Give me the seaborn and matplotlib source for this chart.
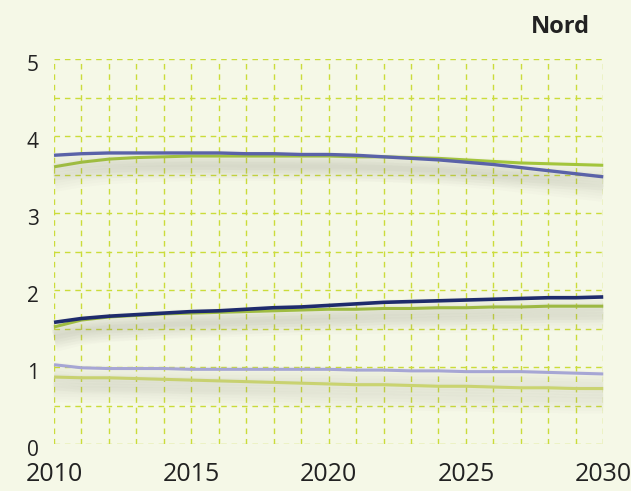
import numpy as np
import pandas as pd
import seaborn as sns
import matplotlib.pyplot as plt
import matplotlib.patheffects as pe
import matplotlib.transforms as mtransforms

# Yearly values per series
years = list(range(2010, 2031))
upper_blue = [3.75, 3.77, 3.78, 3.78, 3.78, 3.78, 3.78, 3.77, 3.77, 3.76, 3.76,
              3.75, 3.73, 3.71, 3.69, 3.66, 3.63, 3.59, 3.55, 3.51, 3.47]
upper_green = [3.60, 3.66, 3.70, 3.72, 3.73, 3.74, 3.74, 3.74, 3.74, 3.74, 3.74,
               3.73, 3.73, 3.72, 3.71, 3.69, 3.67, 3.65, 3.64, 3.63, 3.62]
mid_navy = [1.58, 1.63, 1.66, 1.68, 1.70, 1.72, 1.73, 1.75, 1.77, 1.78, 1.80,
            1.82, 1.84, 1.85, 1.86, 1.87, 1.88, 1.89, 1.90, 1.90, 1.91]
mid_green = [1.52, 1.61, 1.65, 1.67, 1.69, 1.70, 1.71, 1.72, 1.73, 1.74, 1.75,
             1.75, 1.76, 1.76, 1.77, 1.77, 1.78, 1.78, 1.79, 1.79, 1.79]
low_lavender = [1.03, 0.99, 0.98, 0.98, 0.98, 0.97, 0.97, 0.97, 0.97, 0.97, 0.97,
                0.96, 0.96, 0.95, 0.95, 0.94, 0.94, 0.94, 0.93, 0.92, 0.91]
low_green = [0.87, 0.86, 0.86, 0.85, 0.84, 0.83, 0.82, 0.81, 0.80, 0.79, 0.78,
             0.77, 0.77, 0.76, 0.75, 0.75, 0.74, 0.73, 0.73, 0.72, 0.72]

year_labels = ["2010", "2015", "2020", "2025", "2030"]
y_labels = ["0", "1", "2", "3", "4", "5"]
title = "Nord"

series = {
    "low_green": low_green,
    "low_lavender": low_lavender,
    "mid_green": mid_green,
    "mid_navy": mid_navy,
    "upper_green": upper_green,
    "upper_blue": upper_blue,
}
palette = {
    "low_green": "#d3e070",
    "low_lavender": "#a6a6d4",
    "mid_green": "#a2c23e",
    "mid_navy": "#1e2b6c",
    "upper_green": "#a3c53c",
    "upper_blue": "#5a62a8",
}
widths = {
    "low_green": 2.2, "low_lavender": 2.2, "mid_green": 2.2,
    "mid_navy": 2.6, "upper_green": 2.2, "upper_blue": 2.4,
}

df = pd.concat(
    [pd.DataFrame({"year": years, "value": vals, "series": name})
     for name, vals in series.items()],
    ignore_index=True,
)

bg = "#f5f8e7"
grid_col = "#cbdc3a"
text_col = "#222222"

sns.set_style("white")
plt.rcParams["font.family"] = ["Open Sans", "DejaVu Sans"]

fig = plt.figure(figsize=(6.31, 4.91), dpi=100, facecolor=bg)
ax = fig.add_axes([0.0856, 0.0957, 0.956 - 0.0856, 0.8798 - 0.0957])
ax.set_facecolor(bg)

sns.lineplot(data=df, x="year", y="value", hue="series", palette=palette,
             hue_order=list(series.keys()), sort=False, legend=False,
             ax=ax, clip_on=False, zorder=3)

# soft drop shadow under each curve
shadow = [pe.SimpleLineShadow(offset=(0, -8), shadow_color="#8a8a80",
                              alpha=0.028, linewidth=w) for w in (4, 8, 12, 16, 20)]
for line, name in zip(ax.lines, series.keys()):
    line.set_linewidth(widths[name])
    line.set_solid_capstyle("butt")
    line.set_solid_joinstyle("round")
    line.set_path_effects(shadow + [pe.Normal()])

ax.set_xlim(2010, 2030)
ax.set_ylim(0, 5)
ax.set_xticks([int(s) for s in year_labels])
ax.set_xticklabels(year_labels)
ax.set_xticks(years, minor=True)
ax.set_yticks([int(s) for s in y_labels])
ax.set_yticklabels(y_labels)
ax.set_yticks(np.arange(0, 5.01, 0.5), minor=True)

ax.grid(which="both", color=grid_col, linewidth=1.0, linestyle=(0, (4, 3.5)))
ax.set_axisbelow(True)
for s in ax.spines.values():
    s.set_visible(False)

ax.tick_params(which="both", length=0)
ax.tick_params(axis="x", pad=13, labelsize=18, labelcolor=text_col)
ax.tick_params(axis="y", pad=11, labelsize=15, labelcolor=text_col)
off = mtransforms.ScaledTranslation(0, -3 / 72, fig.dpi_scale_trans)
for lbl in ax.get_yticklabels():
    lbl.set_transform(lbl.get_transform() + off)

ax.set_xlabel("")
ax.set_ylabel("")

fig.text(590 / 631, 1 - 27 / 491, title, ha="right", va="center",
         fontsize=17, fontweight="bold", color=text_col)

fig.savefig("out.png", dpi=100, facecolor=bg)
